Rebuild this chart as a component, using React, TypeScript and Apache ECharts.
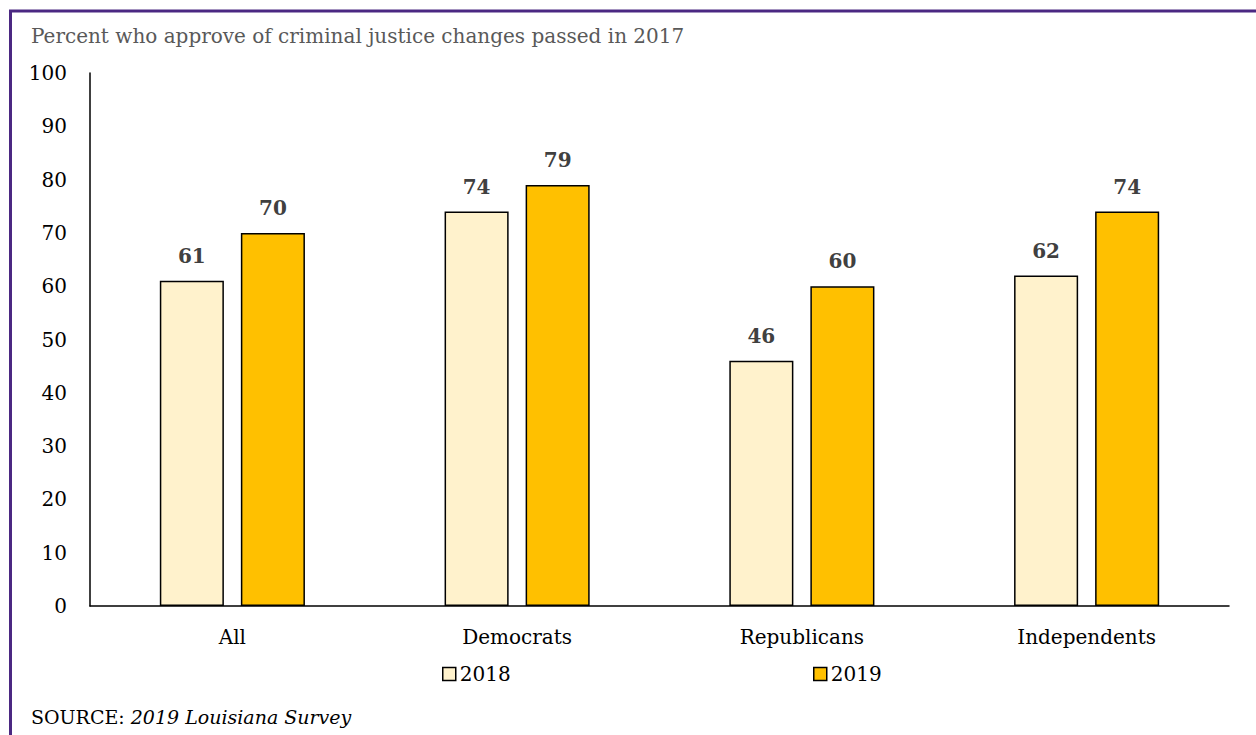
import React, { useEffect, useRef } from "react";
import * as echarts from "echarts";

const categories = ["All", "Democrats", "Republicans", "Independents"];
const values2018 = [61, 74, 46, 62];
const values2019 = [70, 79, 60, 74];
const seriesNames = ["2018", "2019"];
const titleText = "Percent who approve of criminal justice changes passed in 2017";

const FONT = "DejaVu Serif";

export default function App() {
  const ref = useRef<HTMLDivElement>(null);
  useEffect(() => {
    if (!ref.current) return;
    const chart = echarts.init(ref.current, null, { renderer: "svg" });
    const labelStyle = {
      show: true,
      position: "top" as const,
      distance: 15,
      fontFamily: FONT,
      fontSize: 20,
      fontWeight: "bold" as const,
      color: "#404040",
    };
    const legendCommon = {
      top: 664,
      padding: 0,
      icon: "rect",
      itemWidth: 13,
      itemHeight: 13,
      itemGap: 4,
      textStyle: { fontFamily: FONT, fontSize: 20, color: "#000", padding: [0, 0, 0, -1] },
      itemStyle: { borderColor: "#000", borderWidth: 1.5 },
    };
    chart.setOption({
      animation: false,
      backgroundColor: "#ffffff",
      grid: { left: 90, right: 27, top: 73, bottom: 129, containLabel: false },
      xAxis: {
        type: "category",
        data: categories,
        axisLine: { lineStyle: { color: "#000", width: 1.5 } },
        axisTick: { show: false },
        axisLabel: { fontFamily: FONT, fontSize: 20, color: "#000", margin: 21 },
      },
      yAxis: {
        type: "value",
        min: 0,
        max: 100,
        interval: 10,
        axisLine: { show: true, lineStyle: { color: "#000", width: 1.5 } },
        axisTick: { show: false },
        splitLine: { show: false },
        axisLabel: { fontFamily: FONT, fontSize: 20, color: "#000", margin: 23 },
      },
      legend: [
        { ...legendCommon, data: [seriesNames[0]], left: 442 },
        { ...legendCommon, data: [seriesNames[1]], left: 813 },
      ],
      series: [
        {
          name: seriesNames[0],
          type: "bar",
          data: values2018,
          barWidth: "22.5%",
          barGap: "26.5%",
          itemStyle: { color: "#FFF2CC", borderColor: "#000", borderWidth: 1.5 },
          label: labelStyle,
        },
        {
          name: seriesNames[1],
          type: "bar",
          data: values2019,
          barWidth: "22.5%",
          barGap: "26.5%",
          itemStyle: { color: "#FFC000", borderColor: "#000", borderWidth: 1.5 },
          label: labelStyle,
        },
      ],
      graphic: [
        {
          type: "line",
          shape: { x1: 9, y1: 11, x2: 1256, y2: 11 },
          style: { stroke: "#4B2882", lineWidth: 3 },
        },
        {
          type: "line",
          shape: { x1: 10.5, y1: 10, x2: 10.5, y2: 735 },
          style: { stroke: "#4B2882", lineWidth: 3 },
        },
        {
          type: "text",
          left: 31,
          top: 26,
          style: {
            text: titleText,
            fontFamily: FONT,
            fontSize: 20,
            fill: "#595959",
          },
        },
        {
          type: "text",
          left: 31,
          top: 707,
          style: {
            text: "SOURCE: {i|2019 Louisiana Survey}",
            fontFamily: FONT,
            fontSize: 19,
            fill: "#000",
            rich: {
              i: { fontFamily: FONT, fontSize: 19, fontStyle: "italic", fill: "#000" },
            },
          },
        },
      ],
    });
    return () => chart.dispose();
  }, []);
  return (
    <div
      ref={ref}
      style={{ position: "fixed", left: 0, top: 0, width: 1256, height: 735 }}
    />
  );
}
